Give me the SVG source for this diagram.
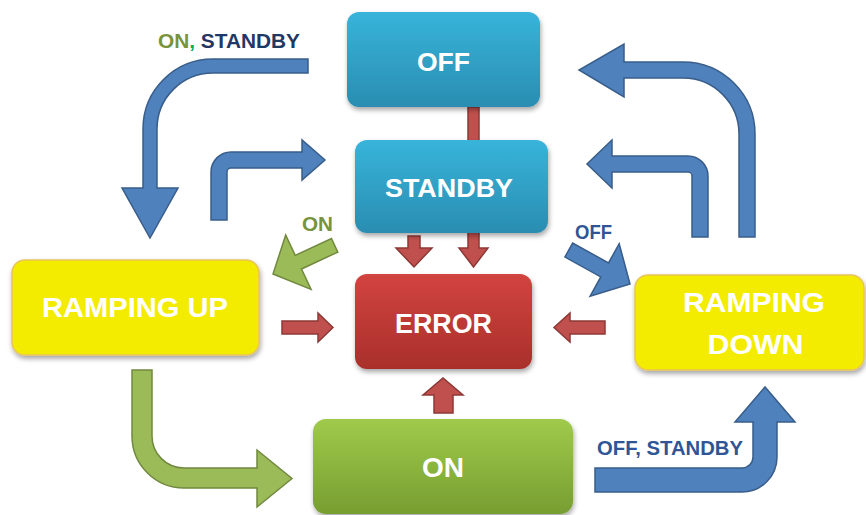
<svg xmlns="http://www.w3.org/2000/svg" width="866" height="515" viewBox="0 0 866 515">
<defs>
<linearGradient id="gTeal" x1="0" y1="0" x2="0" y2="1"><stop offset="0" stop-color="#38b4da"/><stop offset="1" stop-color="#2a8db1"/></linearGradient>
<linearGradient id="gRed" x1="0" y1="0" x2="0" y2="1"><stop offset="0" stop-color="#d2443f"/><stop offset="1" stop-color="#a92f2b"/></linearGradient>
<linearGradient id="gGreen" x1="0" y1="0" x2="0" y2="1"><stop offset="0" stop-color="#9fca4b"/><stop offset="1" stop-color="#779e31"/></linearGradient>
<filter id="shadow" x="-10%" y="-10%" width="125%" height="135%"><feDropShadow dx="1" dy="3" stdDeviation="2.5" flood-color="#000" flood-opacity="0.35"/></filter>
</defs>
<style>
.blue{fill:#4f81bd;stroke:#385d8a;stroke-width:1.5;stroke-linejoin:miter}
.green{fill:#9bbb59;stroke:#71893f;stroke-width:1.5}
.red{fill:#c0504d;stroke:#8c3836;stroke-width:1.5}
.ntext{font-family:"Liberation Sans",Arial,sans-serif;font-weight:bold;fill:#ffffff;text-anchor:middle}
.lbl{font-family:"Liberation Sans",Arial,sans-serif;font-weight:bold;font-size:19.5px}
</style>
<rect width="866" height="515" fill="#ffffff"/>
<g id="connectors">
<path class="red" d="M468,107 L479,107 L479,248 L488,248 L473.5,267 L459,248 L468,248 Z"/>
<path class="red" d="M408,236 L420,236 L420,248 L432,248 L414,267 L396,248 L408,248 Z"/>
<path class="red" d="M434,413 L434,395 L423,395 L443,378 L463,395 L453,395 L453,413 Z"/>
<path class="red" d="M282,321 L318,321 L318,313 L333,327.5 L318,342 L318,334 L282,334 Z"/>
<path class="red" d="M605,321 L570,321 L570,313 L554,327.5 L570,342 L570,334 L605,334 Z"/>
<path class="blue" d="M308,59 L213,59 A70,70 0 0 0 143,129 L143,188 L122,188 L150,238 L178,188 L157,188 L157,129 A56,56 0 0 1 213,73 L308,73 Z"/>
<path class="blue" d="M211,220 L211,172 A20,20 0 0 1 231,152 L302,152 L302,140 L325,160 L302,180 L302,168 L231,168 A4,4 0 0 0 227,172 L227,220 Z"/>
<path class="blue" d="M624,62 L683,62 A72,72 0 0 1 755,134 L755,237 L739,237 L739,134 A56,56 0 0 0 683,78 L624,78 L624,97 L579,70 L624,44 Z"/>
<path class="blue" d="M612,156 L688,156 A20,20 0 0 1 708,176 L708,237 L692,237 L692,176 A4,4 0 0 0 688,172 L612,172 L612,188 L587,164 L612,140 Z"/>
<path class="blue" transform="translate(630,284) rotate(29)" d="M0,0 L-29,-30 L-29,-8 L-70,-8 L-70,8 L-29,8 L-29,30 Z"/>
<path class="blue" d="M595,468 L742,468 A11,11 0 0 0 753,457 L753,422 L735,422 L765,387 L795,422 L777,422 L777,457 A35,35 0 0 1 742,492 L595,492 Z"/>
<path class="green" transform="translate(273,274) rotate(155)" d="M0,0 L-28,-30 L-28,-7.5 L-68,-7.5 L-68,7.5 L-28,7.5 L-28,30 Z"/>
<path class="green" d="M132,370 L152,370 L152,436 A32,32 0 0 0 184,468 L257,468 L257,450 L292,478.5 L257,507 L257,488 L184,488 A52,52 0 0 1 132,436 Z"/>
<text class="lbl" x="158" y="48" textLength="142" lengthAdjust="spacingAndGlyphs"><tspan fill="#77933c">ON</tspan><tspan fill="#00b050">,</tspan><tspan fill="#1f3864"> STANDBY</tspan></text>
<text class="lbl" x="302" y="231" fill="#77933c" textLength="31" lengthAdjust="spacingAndGlyphs">ON</text>
<text class="lbl" x="575" y="239" fill="#2f5597" textLength="37" lengthAdjust="spacingAndGlyphs">OFF</text>
<text class="lbl" x="597" y="455" fill="#2f5597" textLength="146" lengthAdjust="spacingAndGlyphs">OFF, STANDBY</text>
</g>
<g id="node-off">
<rect x="347" y="12" width="193" height="95" rx="12" fill="url(#gTeal)" filter="url(#shadow)"/>
<text class="ntext" x="443.5" y="71" font-size="26.5">OFF</text>
</g>
<g id="node-standby">
<rect x="355" y="140" width="193" height="93" rx="12" fill="url(#gTeal)" filter="url(#shadow)"/>
<text class="ntext" x="449" y="197" font-size="26.5" textLength="128" lengthAdjust="spacingAndGlyphs">STANDBY</text>
</g>
<g id="node-error">
<rect x="355" y="274" width="177" height="95" rx="12" fill="url(#gRed)" filter="url(#shadow)"/>
<text class="ntext" x="443.5" y="333" font-size="27.5" textLength="97" lengthAdjust="spacingAndGlyphs">ERROR</text>
</g>
<g id="node-ramping-up">
<rect x="12" y="260" width="247" height="95" rx="13" fill="#f3ec00" stroke="#e9c45a" stroke-width="1.5" filter="url(#shadow)"/>
<text class="ntext" x="135" y="317" font-size="27.5" textLength="186" lengthAdjust="spacingAndGlyphs">RAMPING UP</text>
</g>
<g id="node-ramping-down">
<rect x="635" y="275" width="229" height="95" rx="13" fill="#f3ec00" stroke="#e9c45a" stroke-width="1.5" filter="url(#shadow)"/>
<text class="ntext" x="754" y="312" font-size="28.5" textLength="142" lengthAdjust="spacingAndGlyphs">RAMPING</text>
<text class="ntext" x="755.5" y="354" font-size="28.5" textLength="96" lengthAdjust="spacingAndGlyphs">DOWN</text>
</g>
<g id="node-on">
<rect x="313" y="419" width="260" height="95" rx="13" fill="url(#gGreen)" filter="url(#shadow)"/>
<text class="ntext" x="443" y="477" font-size="27.5" textLength="42" lengthAdjust="spacingAndGlyphs">ON</text>
</g>
</svg>
